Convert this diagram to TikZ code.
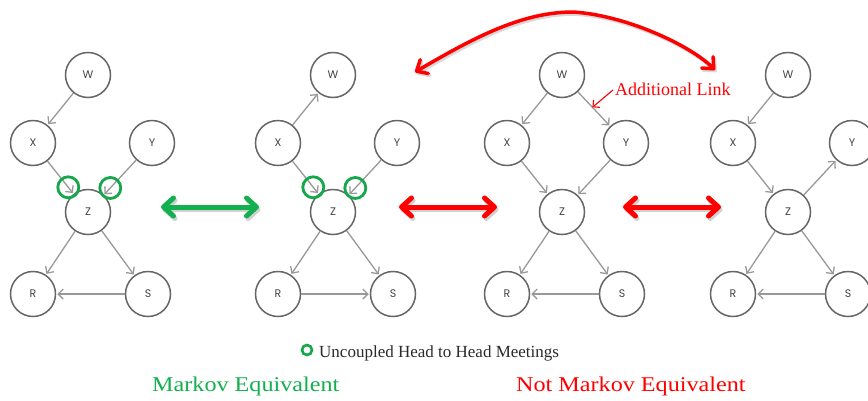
\documentclass[tikz,border=0pt]{standalone}
\usepackage{fontspec}
\setmainfont{Liberation Serif}
\newfontfamily\varfont{Poppins}
\usetikzlibrary{arrows.meta}

\definecolor{ringgray}{HTML}{666666}
\definecolor{linkgray}{HTML}{999999}
\definecolor{lettergray}{HTML}{444444}
\definecolor{hhgreen}{HTML}{14A84A}
\definecolor{eqgreen}{HTML}{12B04E}
\definecolor{alertred}{HTML}{FF0000}
\definecolor{legendink}{HTML}{2A2A2A}

% Places the six variables of one network; #1 = name prefix, #2 = x of the centre column
\newcommand\placevars[2]{%
  \node[var] (#1W) at (#2,75)     {W};
  \node[var] (#1X) at (#2-55,143) {X};
  \node[var] (#1Y) at (#2+64,143) {Y};
  \node[var] (#1Z) at (#2,212)    {Z};
  \node[var] (#1R) at (#2-55,294) {R};
  \node[var] (#1S) at (#2+60,294) {S};
}

\begin{document}
\begin{tikzpicture}[x=1pt,y=-1pt,
  var/.style={circle, draw=ringgray, line width=1.5pt, minimum size=45pt,
    inner sep=0pt, text=lettergray, font=\varfont\fontsize{11}{12}\selectfont},
  link/.style={draw=linkgray, line width=1.3pt,
    -{Straight Barb[length=5pt,width=10pt]}, shorten >=1pt},
  hh/.style={circle, draw=hhgreen, line width=2.8pt, minimum size=21pt, inner sep=0pt},
  bigarrow/.style={line width=5pt, {Straight Barb[length=10pt,width=18pt,round]}-{Straight Barb[length=10pt,width=18pt,round]}},
  shade/.style={draw=black, opacity=0.18},
]
\clip (0,0) rectangle (868,400);
\fill[white] (0,0) rectangle (868,400);

% ---- network 1 ----
\placevars{a}{88}
\draw[link] (aW) -- (aX);
\draw[link] (aX) -- node[hh, pos=.8]{} (aZ);
\draw[link] (aY) -- node[hh, pos=.8]{} (aZ);
\draw[link] (aZ) -- (aR);
\draw[link] (aZ) -- (aS);
\draw[link] (aS) -- (aR);

% ---- network 2 ----
\placevars{b}{333}
\draw[link] (bX) -- (bW);
\draw[link] (bX) -- node[hh, pos=.8]{} (bZ);
\draw[link] (bY) -- node[hh, pos=.8]{} (bZ);
\draw[link] (bZ) -- (bR);
\draw[link] (bZ) -- (bS);
\draw[link] (bR) -- (bS);

% ---- network 3 ----
\placevars{c}{562}
\draw[link] (cW) -- (cX);
\draw[link] (cW) -- coordinate[pos=.45] (extra) (cY);
\draw[link] (cX) -- (cZ);
\draw[link] (cY) -- (cZ);
\draw[link] (cZ) -- (cR);
\draw[link] (cZ) -- (cS);
\draw[link] (cS) -- (cR);

% ---- network 4 ----
\placevars{d}{788}
\draw[link] (dW) -- (dX);
\draw[link] (dX) -- (dZ);
\draw[link] (dZ) -- (dY);
\draw[link] (dZ) -- (dR);
\draw[link] (dZ) -- (dS);
\draw[link] (dS) -- (dR);

% ---- comparison arrows ----
\coordinate (e1l) at (161,207); \coordinate (e1r) at (259,207);
\coordinate (e2l) at (399,207); \coordinate (e2r) at (497,207);
\coordinate (e3l) at (623,207); \coordinate (e3r) at (721,207);
\foreach \l/\r in {e1l/e1r, e2l/e2r, e3l/e3r}
  \draw[bigarrow, shade, transform canvas={shift={(1.5pt,-2.5pt)}}] (\l) -- (\r);
\draw[bigarrow, draw=eqgreen] (e1l) -- (e1r);
\draw[bigarrow, draw=alertred] (e2l) -- (e2r);
\draw[bigarrow, draw=alertred] (e3l) -- (e3r);

% arc joining network 2 and network 4
\coordinate (arcl) at (415,72);
\coordinate (arctop) at (573,12);
\coordinate (arcr) at (715,70);
\draw[line width=3.5pt, draw=black, opacity=0.15,
      {Straight Barb[length=9pt,width=16pt,round]}-{Straight Barb[length=9pt,width=16pt,round]},
      transform canvas={shift={(1.5pt,-2pt)}}]
  (arcl) .. controls (470,40) and (520,12) .. (arctop)
         .. controls (625,15) and (690,45) .. (arcr);
\draw[line width=3.5pt, draw=alertred,
      {Straight Barb[length=9pt,width=16pt,round]}-{Straight Barb[length=9pt,width=16pt,round]}]
  (arcl) .. controls (470,40) and (520,12) .. (arctop)
         .. controls (625,15) and (690,45) .. (arcr);

% note on the added edge
\node[anchor=base west, text=alertred, font=\fontsize{18}{20}\selectfont, inner sep=0pt]
  (note) at (615,95) {Additional Link};
\coordinate (notefoot) at (613,90);
\draw[alertred, line width=1.1pt, -{Straight Barb[length=5pt,width=10pt]}]
  (notefoot) -- (extra);

% ---- legend ----
\node[circle, draw=hhgreen, line width=2.6pt, minimum size=10pt, inner sep=0pt] (key) at (307,350) {};
\node[anchor=base west, text=legendink, font=\fontsize{17}{19}\selectfont, inner sep=0pt]
  (keytext) at (319,357) {Uncoupled Head to Head Meetings};

\node[anchor=base west, text=eqgreen, font=\fontsize{21}{24}\selectfont, inner sep=0pt]
  (eq) at (152,391) {\scalebox{1.15}[1]{Markov Equivalent}};
\node[anchor=base west, text=alertred, font=\fontsize{21}{24}\selectfont, inner sep=0pt]
  (neq) at (516,391) {\scalebox{1.15}[1]{Not Markov Equivalent}};
\end{tikzpicture}
\end{document}
